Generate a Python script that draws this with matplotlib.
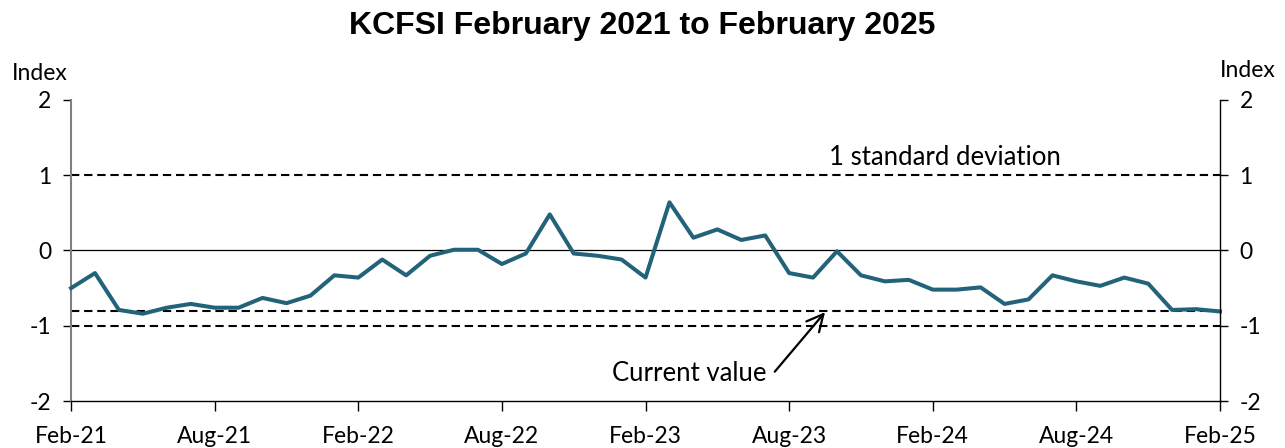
from matplotlib import pyplot as plt
import numpy as np

# KCFSI monthly values, Feb-21 .. Feb-25
kcfsi = [-0.50, -0.30, -0.79, -0.84, -0.76, -0.71, -0.76, -0.76, -0.63, -0.70,
         -0.60, -0.33, -0.36, -0.12, -0.33, -0.07, 0.01, 0.01, -0.18, -0.04,
         0.48, -0.04, -0.07, -0.12, -0.36, 0.64, 0.17, 0.28, 0.14, 0.20,
         -0.30, -0.36, -0.01, -0.33, -0.41, -0.39, -0.52, -0.52, -0.49, -0.71,
         -0.65, -0.33, -0.41, -0.47, -0.36, -0.44, -0.79, -0.78, -0.81]
tick_labels = ["Feb-21", "Aug-21", "Feb-22", "Aug-22", "Feb-23",
               "Aug-23", "Feb-24", "Aug-24", "Feb-25"]
std_dev = 1.0
y_ticks = [-2, -1, 0, 1, 2]

months = np.arange(len(kcfsi))
current = kcfsi[-1]

plt.rcParams['font.family'] = ['Lato', 'DejaVu Sans']

fig = plt.figure(figsize=(12.85, 4.48), dpi=100)
ax = fig.add_axes([0.0553, 0.1049, 0.8941, 0.6719])

dash = (0, (4, 2.3))
ax.axhline(0, color="black", lw=0.9, zorder=1)
ax.axhline(std_dev, color="black", lw=1.5, linestyle=dash, zorder=1)
ax.axhline(-std_dev, color="black", lw=1.5, linestyle=dash, zorder=1)
ax.axhline(current, color="black", lw=1.5, linestyle=dash, zorder=1)
ax.plot(months, kcfsi, color="#23637A", lw=2.9, zorder=3, clip_on=False)

ax.set_xlim(0, len(kcfsi) - 1)
ax.set_ylim(-2, 2)
ax.set_yticks(y_ticks)
ax.set_yticklabels([str(v) for v in y_ticks], fontsize=16.5)
ax.set_xticks(months[::6])
ax.set_xticklabels(tick_labels, fontsize=16.5)
ax.tick_params(axis="y", direction="out", length=6, width=1, pad=8)
ax.tick_params(axis="x", direction="out", length=7, width=1, pad=11)

for side in ["top", "right"]:
    ax.spines[side].set_visible(False)
ax.spines["left"].set_color("#808080")
ax.spines["left"].set_linewidth(1.5)
ax.spines["bottom"].set_linewidth(1)

ax2 = ax.twinx()
ax2.set_ylim(-2, 2)
ax2.set_yticks(y_ticks)
ax2.set_yticklabels([str(v) for v in y_ticks], fontsize=16.5)
ax2.tick_params(axis="y", direction="out", length=6, width=1, pad=8)
for side in ["top", "left", "bottom"]:
    ax2.spines[side].set_visible(False)
ax2.spines["right"].set_linewidth(1)

fig.text(0.0093, 0.837, "Index", fontsize=16.5, ha="left", va="center")
fig.text(0.993, 0.843, "Index", fontsize=16.5, ha="right", va="center")

fig.suptitle("KCFSI February 2021 to February 2025", x=0.5, y=0.975,
             fontsize=23, fontweight="bold", family=["Liberation Sans"])

ax.text(36.5, std_dev + 0.07, "1 standard deviation", fontsize=18.5,
        ha="center", va="bottom")
ax.text(29.05, -1.64, "Current value", fontsize=18.5, ha="right", va="center")
ax.annotate("", xy=(31.5, current - 0.01), xytext=(29.4, -1.61),
            arrowprops=dict(arrowstyle="->,head_length=0.6,head_width=0.3",
                            color="black", lw=1.6, mutation_scale=20,
                            shrinkA=0, shrinkB=0))

plt.savefig("out.png", dpi=100)
